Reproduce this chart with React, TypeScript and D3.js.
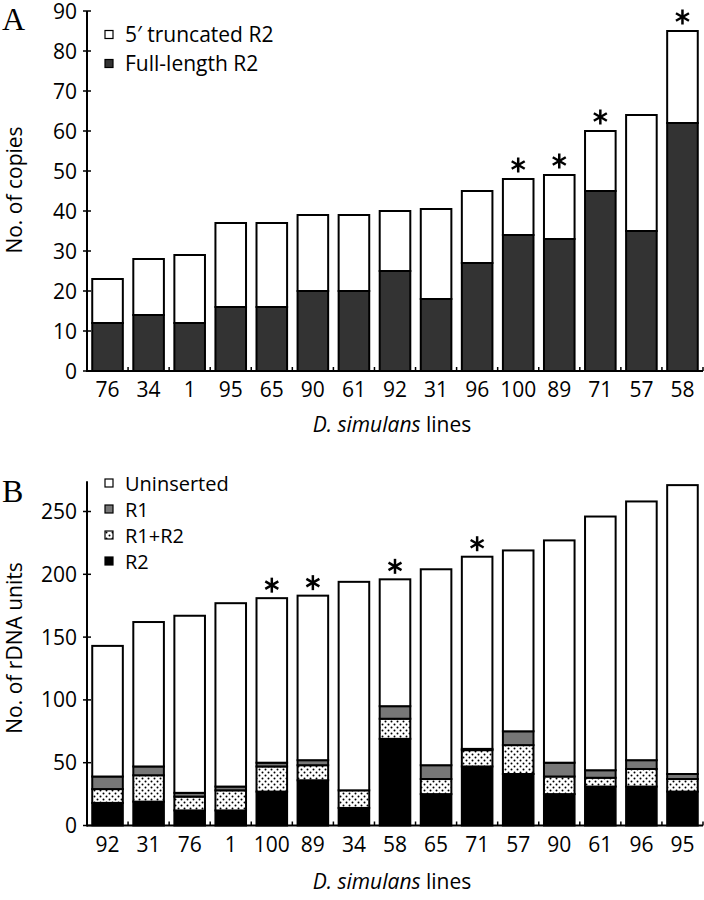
import React from "react";
import * as d3 from "d3";

// Panel A data
const linesA = ["76", "34", "1", "95", "65", "90", "61", "92", "31", "96", "100", "89", "71", "57", "58"];
const fullLengthA = [12, 14, 12, 16, 16, 20, 20, 25, 18, 27, 34, 33, 45, 35, 62];
const totalA = [23, 28, 29, 37, 37, 39, 39, 40, 40.5, 45, 48, 49, 60, 64, 85];
const starsA = ["100", "89", "71", "58"];
const ticksA = [0, 10, 20, 30, 40, 50, 60, 70, 80, 90];

// Panel B data
const linesB = ["92", "31", "76", "1", "100", "89", "34", "58", "65", "71", "57", "90", "61", "96", "95"];
const r2B = [18, 19, 12, 12, 27, 36, 14, 69, 25, 47, 41, 25, 31, 31, 27];
const r1r2B = [11, 21, 11, 16, 20, 12, 14, 16, 12, 13, 23, 14, 7, 14, 10];
const r1B = [10, 7, 3, 3, 3, 4, 0, 10, 11, 1, 11, 11, 6, 7, 4];
const totalB = [143, 162, 167, 177, 181, 183, 194, 196, 204, 214, 219, 227, 246, 258, 271];
const starsB = ["100", "89", "58", "71"];
const ticksB = [0, 50, 100, 150, 200, 250];

const FONT = "'Open Sans', 'Liberation Sans', sans-serif";
const FS = 21;

const X0 = 87;
const X1 = 703;

function Asterisk({ cx, cy }: { cx: number; cy: number }) {
  const r = 7.5;
  const angles = [90, 30, -30];
  return (
    <g stroke="#000" strokeWidth={2.5} strokeLinecap="butt">
      {angles.map((a) => {
        const rad = (a * Math.PI) / 180;
        const dx = Math.cos(rad) * r;
        const dy = Math.sin(rad) * r;
        return <line key={a} x1={cx - dx} y1={cy - dy} x2={cx + dx} y2={cy + dy} />;
      })}
    </g>
  );
}

function XAxis({ x, y0, labelY, titleY }: { x: d3.ScaleBand<string>; y0: number; labelY: number; titleY: number }) {
  const step = x.step();
  const n = x.domain().length;
  return (
    <g>
      <line x1={X0} x2={X1} y1={y0} y2={y0} stroke="#000" strokeWidth={2} />
      {d3.range(1, n + 1).map((k) => (
        <line key={k} x1={X0 + step * k} x2={X0 + step * k} y1={y0} y2={y0 - 4} stroke="#000" strokeWidth={1.5} />
      ))}
      {x.domain().map((c) => (
        <text key={c} x={(x(c) as number) + x.bandwidth() / 2} y={labelY} textAnchor="middle" fontSize={FS} fontFamily={FONT}>
          {c}
        </text>
      ))}
      <text x={392} y={titleY} textAnchor="middle" fontSize={FS} fontFamily={FONT}>
        <tspan fontStyle="italic">D. simulans</tspan>
        <tspan> lines</tspan>
      </text>
    </g>
  );
}

function YAxis({ y, ticks, top, title, titleY }: { y: d3.ScaleLinear<number, number>; ticks: number[]; top: number; title: string; titleY: number }) {
  return (
    <g>
      <line x1={X0} x2={X0} y1={y(0) + 1} y2={y(top)} stroke="#000" strokeWidth={2} />
      {ticks.map((t) => (
        <g key={t}>
          <line x1={X0 - 4} x2={X0 + 4} y1={y(t)} y2={y(t)} stroke="#000" strokeWidth={1.5} />
          <text x={X0 - 10} y={y(t) + 7.5} textAnchor="end" fontSize={FS} fontFamily={FONT}>
            {t}
          </text>
        </g>
      ))}
      <text transform={`translate(22,${titleY}) rotate(-90)`} textAnchor="middle" fontSize={FS} fontFamily={FONT}>
        {title}
      </text>
    </g>
  );
}

function LegendItem({ x, cy, fill, label, fs = FS }: { x: number; cy: number; fill: string; label: string; fs?: number }) {
  return (
    <g>
      <rect x={x} y={cy - 4} width={8} height={8} fill={fill} stroke="#000" strokeWidth={1.2} />
      <text x={x + 20} y={cy + 7.5} fontSize={fs} fontFamily={FONT}>
        {label}
      </text>
    </g>
  );
}

export default function App() {
  const xA = d3.scaleBand<string>().domain(linesA).range([X0, X1]).paddingInner(0.255).paddingOuter(0.1275);
  const yA = d3.scaleLinear().domain([0, 90]).range([371, 11]);

  const xB = d3.scaleBand<string>().domain(linesB).range([X0, X1]).paddingInner(0.255).paddingOuter(0.1275);
  const yB = d3.scaleLinear().domain([0, 250]).range([825.5, 511.5]);

  const stackB = linesB.map((c, i) => {
    const segs = [
      { key: "R2", v: r2B[i], fill: "#000" },
      { key: "R1R2", v: r1r2B[i], fill: "url(#dots)" },
      { key: "R1", v: r1B[i], fill: "#777" },
    ];
    const used = r2B[i] + r1r2B[i] + r1B[i];
    segs.push({ key: "Un", v: totalB[i] - used, fill: "#fff" });
    let acc = 0;
    return segs.map((s) => {
      const y0 = acc;
      acc += s.v;
      return { ...s, y0, y1: acc, cat: c };
    });
  });

  return (
    <svg width={704} height={900} style={{ display: "block", position: "absolute", left: 0, top: 0, background: "#fff" }}>
      <defs>
        <pattern id="dots" width={6} height={6} patternUnits="userSpaceOnUse">
          <rect width={6} height={6} fill="#fff" />
          <circle cx={1.5} cy={1.5} r={1} fill="#000" />
          <circle cx={4.5} cy={4.5} r={1} fill="#000" />
        </pattern>
      </defs>
      <rect width={704} height={900} fill="#fff" />

      {/* Panel A */}
      <text x={2} y={30} fontSize={32} fontFamily="'Liberation Serif', 'DejaVu Serif', serif">A</text>
      {linesA.map((c, i) => {
        const x = xA(c) as number;
        const w = xA.bandwidth();
        return (
          <g key={c}>
            <rect x={x} y={yA(totalA[i])} width={w} height={yA(fullLengthA[i]) - yA(totalA[i])} fill="#fff" stroke="#000" strokeWidth={2} />
            <rect x={x} y={yA(fullLengthA[i])} width={w} height={yA(0) - yA(fullLengthA[i])} fill="#333" stroke="#000" strokeWidth={2} />
            {starsA.includes(c) && <Asterisk cx={x + w / 2} cy={yA(totalA[i]) - 14} />}
          </g>
        );
      })}
      <YAxis y={yA} ticks={ticksA} top={90} title="No. of copies" titleY={190} />
      <XAxis x={xA} y0={yA(0)} labelY={397} titleY={432} />
      <LegendItem x={105} cy={34.5} fill="#fff" label="5′ truncated R2" />
      <LegendItem x={105} cy={63.5} fill="#333" label="Full-length R2" />

      {/* Panel B */}
      <text x={2} y={502} fontSize={32} fontFamily="'Liberation Serif', 'DejaVu Serif', serif">B</text>
      {stackB.map((segs, i) => {
        const c = linesB[i];
        const x = xB(c) as number;
        const w = xB.bandwidth();
        return (
          <g key={c}>
            {segs.filter((s) => s.v > 0).map((s) => (
              <rect key={s.key} x={x} y={yB(s.y1)} width={w} height={yB(s.y0) - yB(s.y1)} fill={s.fill} stroke="#000" strokeWidth={2} />
            ))}
            {starsB.includes(c) && <Asterisk cx={x + w / 2} cy={yB(totalB[i]) - 13} />}
          </g>
        );
      })}
      <YAxis y={yB} ticks={ticksB} top={274} title="No. of rDNA units" titleY={648} />
      <XAxis x={xB} y0={yB(0)} labelY={852} titleY={889} />
      <LegendItem x={105} cy={483} fill="#fff" label="Uninserted" fs={20} />
      <LegendItem x={105} cy={509} fill="#777" label="R1" fs={20} />
      <LegendItem x={105} cy={535} fill="url(#dots)" label="R1+R2" fs={20} />
      <LegendItem x={105} cy={561} fill="#000" label="R2" fs={20} />
    </svg>
  );
}
